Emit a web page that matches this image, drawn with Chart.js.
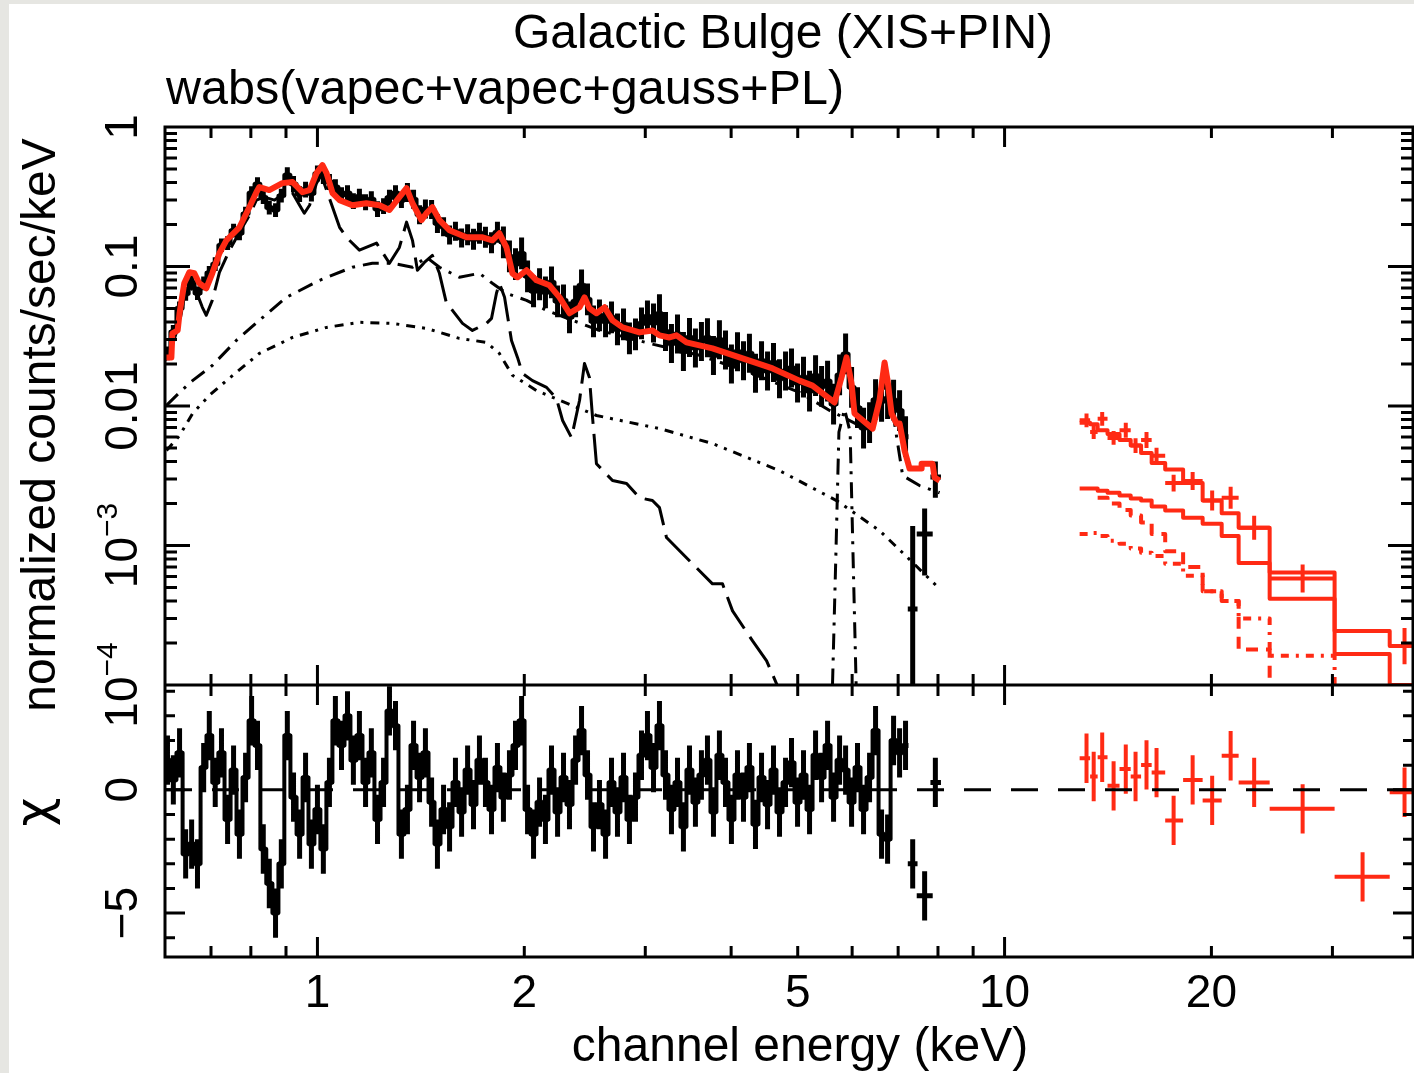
<!DOCTYPE html>
<html>
<head>
<meta charset="utf-8">
<title>Galactic Bulge (XIS+PIN)</title>
<script src="https://cdn.jsdelivr.net/npm/chart.js@4.4.1/dist/chart.umd.min.js"></script>
<style>
  html, body { margin: 0; padding: 0; background: #fff; }
  canvas { display: block; }
</style>
</head>
<body>
<canvas id="spectrum" width="1414" height="1073"></canvas>
<script>
// plot range (keV)
const xMin = 0.6;
const xMax = 39.3;

// XIS data: bin energy (keV), normalized counts/sec/keV, fractional error, residual (chi)
const xisE = [0.605,0.617,0.630,0.643,0.656,0.669,0.683,0.696,0.710,0.725,
  0.740,0.755,0.770,0.786,0.802,0.818,0.834,0.851,0.869,0.886,
  0.904,0.923,0.942,0.961,0.980,1.000,1.020,1.041,1.062,1.084,
  1.106,1.128,1.151,1.175,1.198,1.223,1.248,1.273,1.299,1.325,
  1.352,1.380,1.408,1.436,1.466,1.495,1.526,1.557,1.588,1.621,
  1.654,1.687,1.721,1.756,1.792,1.828,1.865,1.903,1.942,1.982,
  2.022,2.063,2.105,2.147,2.191,2.236,2.281,2.327,2.375,2.423,
  2.472,2.522,2.573,2.626,2.679,2.733,2.789,2.845,2.903,2.962,
  3.022,3.084,3.146,3.210,3.275,3.342,3.409,3.479,3.549,3.621,
  3.695,3.770,3.846,3.925,4.004,4.086,4.169,4.253,4.340,4.429,
  4.519,4.610,4.704,4.800,4.897,4.997,5.098,5.202,5.308,5.416,
  5.526,5.638,5.753,5.870,5.989,6.109,6.234,6.361,6.490,6.622,
  6.757,6.894,7.034,7.176];
const xisRate = [0.0238,0.0340,0.0501,0.0637,0.0770,0.0643,0.0758,0.0902,0.104,0.142,
  0.147,0.181,0.173,0.239,0.336,0.390,0.314,0.264,0.254,0.322,
  0.452,0.390,0.330,0.356,0.333,0.464,0.445,0.403,0.371,0.325,
  0.336,0.294,0.317,0.289,0.304,0.258,0.271,0.312,0.336,0.299,
  0.339,0.304,0.235,0.258,0.256,0.203,0.193,0.168,0.179,0.160,
  0.169,0.157,0.173,0.162,0.148,0.176,0.149,0.118,0.104,0.124,
  0.0851,0.0664,0.0746,0.0653,0.0770,0.0563,0.0572,0.0432,0.0563,0.0733,
  0.0582,0.0404,0.0447,0.0404,0.0432,0.0354,0.0385,0.0305,0.0326,0.0391,
  0.0439,0.0393,0.0459,0.0342,0.0281,0.0328,0.0246,0.0310,0.0260,0.0290,
  0.0308,0.0230,0.0299,0.0252,0.0200,0.0245,0.0211,0.0239,0.0172,0.0211,
  0.0178,0.0205,0.0157,0.0178,0.0187,0.0146,0.0161,0.0128,0.0165,0.0138,
  0.0151,0.0103,0.0167,0.0236,0.0136,0.00972,0.00695,0.0076,0.0111,0.0108,
  0.0113,0.0110,0.00928,0.00603];
const xisErr = [0.12,0.12,0.12,0.12,0.12,0.12,0.12,0.12,0.12,0.12,
  0.12,0.12,0.12,0.12,0.12,0.12,0.12,0.12,0.12,0.12,
  0.14,0.14,0.14,0.14,0.14,0.14,0.14,0.14,0.14,0.14,
  0.14,0.14,0.14,0.14,0.14,0.14,0.14,0.14,0.14,0.14,
  0.17,0.17,0.17,0.17,0.17,0.17,0.17,0.17,0.17,0.17,
  0.19,0.19,0.19,0.19,0.19,0.19,0.30,0.30,0.30,0.30,
  0.30,0.30,0.30,0.30,0.30,0.30,0.30,0.30,0.30,0.30,
  0.30,0.30,0.30,0.30,0.30,0.30,0.30,0.30,0.30,0.30,
  0.30,0.38,0.38,0.38,0.38,0.38,0.38,0.38,0.38,0.38,
  0.38,0.38,0.38,0.38,0.38,0.38,0.38,0.38,0.38,0.38,
  0.38,0.38,0.38,0.38,0.38,0.38,0.40,0.40,0.40,0.40,
  0.40,0.40,0.40,0.40,0.40,0.40,0.40,0.40,0.40,0.40,
  0.40,0.40,0.40,0.40];
const xisChi = [1.2,0.4,1.5,-2.6,-2.2,-3.0,0.9,2.2,0.3,1.5,
  -1.2,0.8,-1.8,0.5,2.8,1.8,-2.4,-3.8,-5.0,-3.0,
  2.2,-0.3,-1.8,0.5,-2.2,-0.8,-2.4,0.3,2.8,1.8,
  3.0,1.2,2.2,0.3,1.5,-1.2,0.3,3.2,2.6,-1.8,
  -0.8,1.8,0.5,1.5,-0.5,-2.2,-0.8,-1.5,0.3,-0.9,
  0.8,-0.6,1.2,0.3,-0.8,0.9,-0.3,0.6,1.8,2.8,
  -0.8,-1.8,-0.5,-1.2,0.8,-0.9,0.5,-0.6,1.2,2.4,
  0.6,-1.5,-0.6,-1.8,0.3,-0.9,0.5,-1.2,-0.3,1.4,
  2.2,0.9,2.6,0.6,-0.8,0.3,-1.5,0.8,-0.5,0.6,
  1.2,-0.9,1.4,0.3,-1.2,0.6,-0.3,0.9,-1.4,0.5,
  -0.6,0.8,-0.9,0.3,1.1,-0.5,0.6,-0.8,1.4,0.5,
  1.8,-0.3,1.2,0.8,-0.5,0.9,-0.8,0.5,2.4,-1.8,
  -2.0,2.0,1.5,1.8];

// sparse XIS bins above 7.2 keV
const tailE = [7.35, 7.65, 7.93];
const tailLoE = [7.23, 7.45, 7.80];
const tailHiE = [7.47, 7.86, 8.08];
const tailRate = [0.00035, 0.00121, 0.0031];
const tailLo = [0.00004, 0.00061, 0.0022];
const tailHi = [0.00138, 0.00184, 0.0040];
const tailChi = [-3.0, -4.3, 0.3];

// XIS total model (red)
const modelE = [0.6,0.613,0.615,0.626,0.630,0.640,0.651,0.662,0.673,0.689,
  0.703,0.720,0.737,0.770,0.796,0.815,0.823,0.851,0.889,0.920,
  0.951,0.974,0.997,1.017,1.031,1.052,1.077,1.124,1.178,1.231,
  1.273,1.316,1.348,1.375,1.417,1.441,1.470,1.505,1.556,1.648,
  1.739,1.797,1.840,1.884,1.922,1.955,2.015,2.084,2.176,2.251,
  2.327,2.407,2.447,2.488,2.547,2.617,2.688,2.780,2.943,3.073,
  3.146,3.253,3.331,3.444,3.758,4.115,4.596,5.03,5.254,5.655,
  5.79,5.888,5.988,6.048,6.427,6.577,6.689,6.757,6.848,6.964,
  7.035,7.153,7.274,7.573,7.573,7.856,7.909,8.043];
const modelRate = [0.0223,0.0223,0.0332,0.0348,0.0462,0.0758,0.0909,0.0894,0.0758,0.0698,
  0.0894,0.1245,0.154,0.191,0.266,0.341,0.371,0.353,0.396,0.403,
  0.341,0.353,0.467,0.533,0.467,0.336,0.299,0.275,0.284,0.275,
  0.254,0.314,0.365,0.284,0.215,0.241,0.266,0.215,0.182,0.162,
  0.162,0.154,0.173,0.137,0.0894,0.0837,0.094,0.0796,0.0733,0.0601,
  0.0462,0.051,0.0601,0.0501,0.0462,0.051,0.0411,0.0366,0.0337,0.0348,
  0.0321,0.031,0.0321,0.0286,0.0259,0.0223,0.0186,0.0152,0.014,0.0106,
  0.016,0.0223,0.0145,0.00883,0.00689,0.011,0.0205,0.0152,0.00883,0.00748,
  0.00748,0.00479,0.00356,0.00356,0.00386,0.00386,0.00307,0.00292];

// model components (black)
const softE = [0.6,0.613,0.630,0.640,0.651,0.667,0.680,0.689,0.703,0.720,
  0.745,0.770,0.796,0.815,0.837,0.866,0.895,0.920,0.942,0.957,
  0.974,0.997,1.013,1.031,1.052,1.077,1.102,1.151,1.219,1.273,
  1.316,1.348,1.375,1.398,1.431,1.470,1.505,1.541,1.572,1.626,
  1.681,1.762,1.792,1.822,1.840,1.872,1.916,1.955,1.988,2.056,
  2.155,2.228,2.274,2.343,2.407,2.447,2.488,2.514,2.547,2.688,
  2.818,2.943,3.073,3.146,3.221,3.444,3.597,3.758,3.886,4.019,
  4.298,4.505,4.658,4.783];
const softRate = [0.0212,0.0259,0.0398,0.0601,0.0710,0.0653,0.051,0.0447,0.0572,0.0909,
  0.131,0.176,0.233,0.299,0.314,0.299,0.336,0.336,0.275,0.241,
  0.275,0.396,0.452,0.353,0.266,0.191,0.162,0.131,0.147,0.1055,
  0.137,0.208,0.154,0.094,0.107,0.12,0.0894,0.0545,0.0485,0.0391,
  0.0348,0.0391,0.0425,0.0643,0.0758,0.0601,0.0295,0.0223,0.0171,0.0152,
  0.0136,0.0113,0.00787,0.00594,0.011,0.0202,0.016,0.00827,0.00386,0.00292,
  0.00278,0.0022,0.0021,0.00187,0.00114,0.000817,0.000659,0.000531,0.000531,0.00034,
  0.000207,0.000149,0.000102,0.0000767];

const hardE = [0.603,0.630,0.658,0.703,0.762,0.823,0.901,1.007,1.124,1.202,
  1.286,1.375,1.441,1.505,1.609,1.721,1.797,1.884,2.015,2.155,
  2.351,2.573,3.043,3.597,4.255,5.03,5.564,6.151,6.427,6.577,
  6.689,6.802,6.917,7.107,7.52,8.043];
const hardRate = [0.0101,0.0125,0.0152,0.0195,0.0295,0.0411,0.0601,0.0796,0.0988,0.1055,
  0.1055,0.0988,0.1165,0.0988,0.0837,0.0894,0.0758,0.0643,0.0572,0.0485,
  0.0411,0.0348,0.0281,0.0231,0.0174,0.0125,0.00929,0.00724,0.00667,0.0101,
  0.0145,0.0119,0.00748,0.00317,0.00269,0.00239];

const plE = [0.603,0.630,0.658,0.696,0.737,0.823,0.920,1.031,1.151,1.286,
  1.441,1.609,1.762,1.840,1.922,2.084,2.251,2.547,3.146,3.758,
  4.704,5.694,6.577,7.107,8.043];
const plRate = [0.00479,0.00614,0.00883,0.0119,0.0152,0.0238,0.031,0.0366,0.0398,0.0391,
  0.036,0.0305,0.0286,0.0238,0.0166,0.0129,0.011,0.00855,0.00689,0.00538,
  0.00344,0.0021,0.00128,0.000887,0.000489];

const gaussE = [5.55, 5.68, 5.74, 5.85, 5.96, 6.02, 6.15];
const gaussRate = [0.00001, 0.0008, 0.0065, 0.0095, 0.0065, 0.0008, 0.00001];

// PIN data (red)
const pinEdges = [12.86,13.32,13.66,14.12,14.70,15.26,15.80,16.37,17.13,18.19,19.42,20.70,21.91,24.31,30.22,36.35,41.0];
const pinE = [13.16,13.48,13.87,14.41,15.01,15.51,16.09,16.64,17.62,18.78,20.05,21.33,23.08,27.15,33.19,38.2];
const pinRate = [0.0079,0.0065,0.0081,0.0059,0.0067,0.0052,0.0057,0.0044,0.0028,0.0029,0.0021,0.0022,0.00134,0.00058,0.00006,0.00019];
const pinErr = [0.12,0.12,0.12,0.12,0.13,0.13,0.14,0.14,0.15,0.16,0.18,0.20,0.22,0.26,0.60,0.35];
const pinChi = [1.28,0.54,1.32,0.16,0.84,0.54,1.01,0.70,-1.24,0.40,-0.43,1.38,0.30,-0.77,-3.53,-0.1];

// PIN model, one value per bin
const pinTotal = [0.0076,0.0074,0.0067,0.0063,0.0057,0.0052,0.0046,0.0039,0.0035,0.0028,0.0021,0.0017,0.00134,0.00064,0.000244,0.00019];
const pinPL = [0.00256,0.00256,0.00247,0.00239,0.00228,0.00217,0.0021,0.0019,0.00178,0.00158,0.00143,0.00117,0.00075,0.000415,0.000167,0.0001];
const pinHot = [null,null,0.0022,0.002,0.0018,0.00164,0.00146,0.00121,0.00091,0.0007,0.00047,0.0004,0.00018,0.00009,null,null];
const pinSoft = [0.00121,0.00123,0.00117,0.00108,0.00103,0.00095,0.000887,0.00084,0.00074,0.000607,0.00047,0.0004,0.0003,0.000162,0.00008,0.00005];

// axis ticks and labels
const xMajorTicks = [1, 10];
const xMinorTicks = [0.7, 0.8, 0.9, 2, 3, 4, 5, 6, 7, 8, 9, 20, 30];
const xTickLabels = [1, 2, 5, 10, 20];
const yDecades = [1e-4, 1e-3, 0.01, 0.1, 1];
const yTickLabels = [
  {v: 1, base: '1'}, {v: 0.1, base: '0.1'}, {v: 0.01, base: '0.01'},
  {v: 1e-3, base: '10', exp: '\u22123'}, {v: 1e-4, base: '10', exp: '\u22124'}
];
const chiMajorTicks = [-5, 0];
const chiMinorTicks = [-6, -4, -3, -2, -1, 1, 2, 3, 4];
const chiTickLabels = [{v: 0, base: '0'}, {v: -5, base: '\u22125'}];

const titleText = 'Galactic Bulge (XIS+PIN)';
const subtitleText = 'wabs(vapec+vapec+gauss+PL)';
const xTitle = 'channel energy (keV)';
const yTitle = 'normalized counts/sec/keV';
const chiTitle = '\u03c7';

// ---- layout ----
const FONT = '"Liberation Sans", Arial, Helvetica, sans-serif';
const RED = 'rgb(255,42,20)';
const topPanelH = 558;
const botPanelH = 272;

function pts(xs, ys) {
  return xs.map((x, i) => ({x: x, y: ys[i]}));
}

// points for a histogram drawn with stepped:'before'
function steps(edges, vals) {
  const out = [];
  vals.forEach((v, i) => {
    if (v == null) return;
    out.push({x: edges[i], y: v});
    if (i === vals.length - 1 || vals[i + 1] == null) out.push({x: edges[i + 1], y: v});
  });
  return out;
}

// geometric bin edges from neighbouring bin centres
function binEdges(E) {
  return E.map((e, i) => {
    const lo = i > 0 ? Math.sqrt(E[i - 1] * e) : e * e / Math.sqrt(e * E[i + 1]);
    const hi = i < E.length - 1 ? Math.sqrt(e * E[i + 1]) : e * e / Math.sqrt(E[i - 1] * e);
    return [lo, hi];
  });
}

const xisBins = binEdges(xisE);
const xisBars = xisE.map((e, i) => ({
  x: e, y: xisRate[i], xlo: xisBins[i][0], xhi: xisBins[i][1],
  ylo: xisRate[i] / (1 + xisErr[i]), yhi: xisRate[i] * (1 + xisErr[i])
})).concat(tailE.map((e, i) => ({
  x: e, y: tailRate[i], xlo: tailLoE[i], xhi: tailHiE[i], ylo: tailLo[i], yhi: tailHi[i]
})));
const xisChiBars = xisE.map((e, i) => ({
  x: e, y: xisChi[i], xlo: xisBins[i][0], xhi: xisBins[i][1], ylo: xisChi[i] - 1, yhi: xisChi[i] + 1
})).concat(tailE.map((e, i) => ({
  x: e, y: tailChi[i], xlo: tailLoE[i], xhi: tailHiE[i], ylo: tailChi[i] - 1, yhi: tailChi[i] + 1
})));
const pinBars = pinE.map((e, i) => ({
  x: e, y: pinRate[i], xlo: pinEdges[i], xhi: pinEdges[i + 1],
  ylo: pinRate[i] / (1 + pinErr[i]), yhi: pinRate[i] * (1 + pinErr[i])
}));
const pinChiBars = pinE.map((e, i) => ({
  x: e, y: pinChi[i], xlo: pinEdges[i], xhi: pinEdges[i + 1], ylo: pinChi[i] - 1, yhi: pinChi[i] + 1
}));

function lineSet(data, color, width, dash, axis, order, stepped) {
  return {
    data: data, yAxisID: axis, borderColor: color, borderWidth: width, borderDash: dash,
    pointRadius: 0, fill: false, stepped: stepped || false, order: order
  };
}
function crossSet(bars, color, width, axis) {
  return {
    data: bars.map(b => ({x: b.x, y: b.y})), bars: bars, barColor: color, barWidth: width,
    yAxisID: axis, showLine: false, pointRadius: 0, order: 50
  };
}

// error crosses, drawn under the model lines
const crossPlugin = {
  id: 'crosses',
  beforeDatasetsDraw(chart) {
    const ctx = chart.ctx, xs = chart.scales.x;
    chart.data.datasets.forEach(ds => {
      if (!ds.bars) return;
      const ys = chart.scales[ds.yAxisID];
      ctx.save();
      ctx.beginPath();
      ctx.rect(xs.left, ys.top, xs.right - xs.left, ys.bottom - ys.top);
      ctx.clip();
      ctx.strokeStyle = ds.barColor;
      ctx.lineWidth = ds.barWidth;
      ctx.beginPath();
      ds.bars.forEach(b => {
        const py = ys.getPixelForValue(b.y), px = xs.getPixelForValue(b.x);
        ctx.moveTo(xs.getPixelForValue(b.xlo), py);
        ctx.lineTo(xs.getPixelForValue(b.xhi), py);
        ctx.moveTo(px, ys.getPixelForValue(b.ylo));
        ctx.lineTo(px, ys.getPixelForValue(b.yhi));
      });
      ctx.stroke();
      ctx.restore();
    });
  }
};

function rotLabel(ctx, parts, px, py) {
  ctx.save();
  ctx.translate(px, py);
  ctx.rotate(-Math.PI / 2);
  ctx.textAlign = 'left';
  ctx.textBaseline = 'alphabetic';
  let w = 0;
  parts.forEach(p => { ctx.font = p.size + 'px ' + (p.family || FONT); p.w = ctx.measureText(p.text).width; w += p.w; });
  let cx = -w / 2;
  parts.forEach(p => { ctx.font = p.size + 'px ' + (p.family || FONT); ctx.fillText(p.text, cx, -(p.rise || 0)); cx += p.w; });
  ctx.restore();
}
function labelParts(t) {
  const parts = [{text: t.base, size: 46}];
  if (t.exp) parts.push({text: t.exp, size: 30, rise: 20});
  return parts;
}

// frame, inward ticks and all text
const framePlugin = {
  id: 'frame',
  beforeDraw(chart) {
    const ctx = chart.ctx;
    ctx.save();
    ctx.fillStyle = '#e6e6e2';
    ctx.fillRect(0, 0, chart.width, chart.height);
    ctx.fillStyle = '#ffffff';
    ctx.fillRect(9, 4, chart.width - 9, chart.height - 4);
    ctx.restore();
  },
  afterDraw(chart) {
    const ctx = chart.ctx, a = chart.chartArea;
    const x = chart.scales.x, y = chart.scales.y, yr = chart.scales.yr;
    ctx.save();
    ctx.strokeStyle = '#000';
    ctx.lineWidth = 3;
    ctx.beginPath();
    ctx.rect(a.left, a.top, a.right - a.left, a.bottom - a.top);
    ctx.moveTo(a.left, y.bottom);
    ctx.lineTo(a.right, y.bottom);
    const seg = (x0, y0, x1, y1) => { ctx.moveTo(x0, y0); ctx.lineTo(x1, y1); };
    [[y.top, y.bottom], [yr.top, yr.bottom]].forEach(([t, b]) => {
      xMajorTicks.forEach(v => { const p = x.getPixelForValue(v); seg(p, t, p, t + 20); seg(p, b, p, b - 20); });
      xMinorTicks.forEach(v => { const p = x.getPixelForValue(v); seg(p, t, p, t + 11); seg(p, b, p, b - 11); });
    });
    yDecades.forEach((d, i) => {
      const p = y.getPixelForValue(d);
      seg(a.left, p, a.left + 25, p); seg(a.right, p, a.right - 25, p);
      if (i < yDecades.length - 1) {
        for (let m = 2; m <= 9; m++) {
          const q = y.getPixelForValue(d * m);
          seg(a.left, q, a.left + 12, q); seg(a.right, q, a.right - 12, q);
        }
      }
    });
    chiMajorTicks.forEach(v => { const p = yr.getPixelForValue(v); seg(a.left, p, a.left + 20, p); seg(a.right, p, a.right - 20, p); });
    chiMinorTicks.forEach(v => { const p = yr.getPixelForValue(v); seg(a.left, p, a.left + 10, p); seg(a.right, p, a.right - 10, p); });
    ctx.stroke();

    ctx.fillStyle = '#000';
    ctx.textBaseline = 'alphabetic';
    ctx.font = '48px ' + FONT;
    ctx.textAlign = 'center';
    ctx.fillText(titleText, 783, 48);
    ctx.textAlign = 'left';
    ctx.font = '48.5px ' + FONT;
    ctx.fillText(subtitleText, 166, 104);
    ctx.font = '48px ' + FONT;
    ctx.textAlign = 'center';
    ctx.fillText(xTitle, 800, 1061);
    ctx.font = '46px ' + FONT;
    xTickLabels.forEach(v => ctx.fillText(String(v), x.getPixelForValue(v), 1007));

    yTickLabels.forEach(t => rotLabel(ctx, labelParts(t), 137, y.getPixelForValue(t.v)));
    chiTickLabels.forEach(t => rotLabel(ctx, labelParts(t), 137, yr.getPixelForValue(t.v)));
    rotLabel(ctx, [{text: yTitle, size: 48}], 55, 425);
    rotLabel(ctx, [{text: chiTitle, size: 50, family: '"DejaVu Sans", sans-serif'}], 50, 812);
    ctx.restore();
  }
};

const datasets = [
  lineSet(pts(modelE, modelRate), RED, 6, [], 'y', 0),
  lineSet(pts(softE, softRate), '#000', 3, [36, 10], 'y', 10),
  lineSet(pts(hardE, hardRate), '#000', 3, [16, 8, 3, 8], 'y', 10),
  lineSet(pts(plE, plRate), '#000', 3, [9, 7, 3, 7, 3, 7], 'y', 10),
  lineSet(pts(gaussE, gaussRate), '#000', 3, [16, 8, 3, 8], 'y', 10),
  lineSet(steps(pinEdges, pinTotal), RED, 4, [], 'y', 1, 'before'),
  lineSet(steps(pinEdges, pinPL), RED, 4, [], 'y', 1, 'before'),
  lineSet(steps(pinEdges, pinHot), RED, 4, [12, 8], 'y', 1, 'before'),
  lineSet(steps(pinEdges, pinSoft), RED, 4, [8, 7, 3, 7], 'y', 1, 'before'),
  lineSet([{x: xMin, y: 0}, {x: xMax, y: 0}], '#000', 3, [27, 20], 'yr', 20),
  // XIS data traced as a histogram so the dense bins read as one band
  lineSet(pts(xisE, xisRate), '#000', 4, [], 'y', 40, 'middle'),
  lineSet(pts(xisE, xisChi), '#000', 4, [], 'yr', 40, 'middle'),
  crossSet(xisBars, '#000', 5, 'y'),
  crossSet(xisChiBars, '#000', 5, 'yr'),
  crossSet(pinBars, RED, 4, 'y'),
  crossSet(pinChiBars, RED, 4, 'yr')
];

new Chart(document.getElementById('spectrum'), {
  type: 'line',
  data: {datasets: datasets},
  options: {
    responsive: false,
    animation: false,
    devicePixelRatio: 1,
    layout: {padding: {left: 165, top: 127, right: 1, bottom: 116}},
    plugins: {legend: {display: false}, tooltip: {enabled: false}, title: {display: false}},
    elements: {line: {tension: 0, borderJoinStyle: 'round'}, point: {radius: 0}},
    scales: {
      x: {type: 'logarithmic', min: xMin, max: xMax, display: false},
      y: {type: 'logarithmic', min: 1e-4, max: 1, display: false, position: 'left',
          stack: 'panels', stackWeight: topPanelH, weight: 1},
      yr: {type: 'linear', min: -6.78, max: 4.25, display: false, position: 'left',
           stack: 'panels', stackWeight: botPanelH, weight: 0}
    }
  },
  plugins: [crossPlugin, framePlugin]
});
</script>
</body>
</html>
